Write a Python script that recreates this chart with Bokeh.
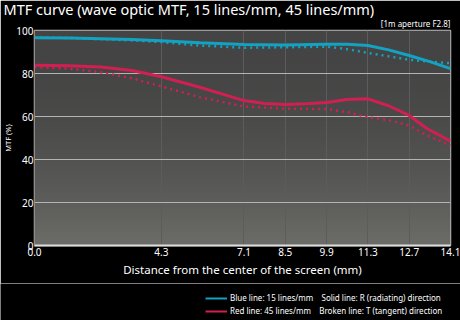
import numpy as np
from bokeh.plotting import figure
from bokeh.layouts import column
from bokeh.models import (Range1d, FixedTicker, Legend, LegendItem, Title)
from bokeh.embed import file_html
from bokeh.resources import INLINE

# Image height positions (mm from centre) and tick labels
x_ticks = [0.0, 4.3, 7.1, 8.5, 9.9, 11.3, 12.7, 14.1]
x_tick_labels = ["0.0", "4.3", "7.1", "8.5", "9.9", "11.3", "12.7", "14.1"]
y_ticks = [0, 20, 40, 60, 80, 100]

# 15 lines/mm (blue)
blue_r_x = [0.0, 1.2, 2.25, 3.3, 4.3, 5.6, 7.1, 8.5, 9.9, 10.6, 11.3, 12.0, 12.7, 13.4, 14.1]
blue_r_y = [96.6, 96.5, 96.2, 95.8, 95.2, 94.3, 93.5, 93.3, 93.6, 93.6, 93.0, 91.0, 88.4, 85.5, 82.3]
blue_t_x = [0.0, 1.2, 2.25, 3.3, 4.3, 5.6, 7.1, 8.5, 9.9, 10.6, 11.3, 12.0, 12.7, 13.4, 14.1]
blue_t_y = [96.8, 96.5, 96.0, 95.4, 94.6, 93.0, 92.0, 92.2, 92.5, 91.3, 89.6, 88.0, 86.4, 85.5, 84.8]

# 45 lines/mm (red)
red_r_x = [0.0, 1.2, 2.25, 3.3, 4.3, 5.6, 7.1, 7.8, 8.5, 9.2, 9.9, 10.6, 11.3, 12.0, 12.7, 13.3, 14.1]
red_r_y = [83.8, 83.6, 83.0, 81.4, 78.5, 73.6, 67.4, 66.0, 65.6, 65.9, 66.5, 67.9, 68.2, 65.0, 60.5, 54.4, 48.5]
red_t_x = [0.0, 1.2, 2.25, 3.3, 4.3, 5.6, 7.1, 8.5, 9.9, 10.6, 11.3, 12.0, 12.7, 13.3, 14.1]
red_t_y = [83.0, 82.2, 80.6, 77.8, 74.0, 69.0, 64.7, 63.6, 63.5, 62.0, 59.7, 58.3, 55.8, 51.2, 46.5]

legend_labels = ["Blue line: 15 lines/mm    Solid line: R (radiating) direction",
                 "Red line: 45 lines/mm    Broken line: T (tangent) direction"]

BLUE = "#13a2c2"
RED = "#d21f52"
FONT = "Noto Sans"

p = figure(width=460, height=283, output_backend="svg", toolbar_location=None,
           x_range=Range1d(x_ticks[0], x_ticks[-1]), y_range=Range1d(y_ticks[0], y_ticks[-1]),
           min_border_left=33, min_border_right=10, min_border_top=30, min_border_bottom=38)
p.background_fill_color = "#000000"
p.border_fill_color = "#000000"
p.outline_line_color = "#b8b8b8"
p.outline_line_width = 1.5

# vertical gradient for the plotting area (darker at top, lighter at bottom)
n = 200
t = np.linspace(0.0, 1.0, n)[:, None]          # 0 = bottom, 1 = top
w = (1.0 - t) ** 2
top_c = np.array([68, 68, 68])
bot_c = np.array([108, 108, 104])
cols = top_c + (bot_c - top_c) * w[..., None]
img = np.zeros((n, 1), dtype=np.uint32)
view = img.view(dtype=np.uint8).reshape((n, 1, 4))
view[..., 0] = cols[..., 0].astype(np.uint8)
view[..., 1] = cols[..., 1].astype(np.uint8)
view[..., 2] = cols[..., 2].astype(np.uint8)
view[..., 3] = 255
p.image_rgba(image=[img], x=x_ticks[0], y=y_ticks[0],
             dw=x_ticks[-1] - x_ticks[0], dh=y_ticks[-1] - y_ticks[0], level="image")

# grids
p.xgrid.ticker = FixedTicker(ticks=x_ticks)
p.xgrid.grid_line_color = "#5c5c5c"
p.xgrid.grid_line_width = 1
p.ygrid.ticker = FixedTicker(ticks=y_ticks)
p.ygrid.grid_line_color = "#b4b4b4"
p.ygrid.grid_line_width = 1

# curves
p.line(blue_t_x, blue_t_y, color=BLUE, line_width=2.5, line_dash="2 4")
p.line(blue_r_x, blue_r_y, color=BLUE, line_width=3)
p.line(red_t_x, red_t_y, color=RED, line_width=2.5, line_dash="2 4")
p.line(red_r_x, red_r_y, color=RED, line_width=3)

# axes
p.xaxis.ticker = FixedTicker(ticks=x_ticks)
p.xaxis.major_label_overrides = {tk: lb for tk, lb in zip(x_ticks, x_tick_labels)}
p.xaxis.axis_label = "Distance from the center of the screen (mm)"
p.yaxis.ticker = FixedTicker(ticks=y_ticks)
p.yaxis.axis_label = "MTF (%)"
for ax in (p.xaxis, p.yaxis):
    ax.major_tick_line_color = None
    ax.minor_tick_line_color = None
    ax.major_tick_out = 0
    ax.major_tick_in = 0
    ax.minor_tick_out = 0
    ax.minor_tick_in = 0
    ax.major_label_text_color = "#ffffff"
    ax.major_label_text_font = FONT
    ax.axis_label_text_color = "#ffffff"
    ax.axis_label_text_font = FONT
    ax.axis_label_text_font_style = "normal"
p.xaxis.axis_line_color = "#dcdcdc"
p.xaxis.axis_line_width = 2
p.xaxis.major_label_text_font_size = "10px"
p.xaxis.major_label_standoff = 2
p.xaxis.axis_label_text_font_size = "11.5px"
p.xaxis.axis_label_standoff = 3
p.yaxis.axis_line_color = "#8c8c8c"
p.yaxis.major_label_text_font_size = "10px"
p.yaxis.major_label_standoff = 1
p.yaxis.axis_label_text_font_size = "7.5px"
p.yaxis.axis_label_standoff = 0

# titles
p.add_layout(Title(text="[1m aperture F2.8]", align="right", text_color="#ffffff",
                   text_font=FONT, text_font_size="8px", text_font_style="normal",
                   standoff=3), "above")
p.add_layout(Title(text="MTF curve (wave optic MTF, 15 lines/mm, 45 lines/mm)", align="left",
                   text_color="#ffffff", text_font=FONT, text_font_size="14.5px",
                   text_font_style="normal", offset=-31, standoff=-9), "above")

# legend strip underneath the chart; its view window lies below the data,
# so only the legend keys of the two series appear
lg = figure(width=460, height=37, output_backend="svg", toolbar_location=None,
            x_axis_type=None, y_axis_type=None,
            x_range=Range1d(x_ticks[0], x_ticks[-1]), y_range=Range1d(-20, -10),
            min_border=0)
lg.frame_align = False
lg.background_fill_color = "#000000"
lg.border_fill_color = "#000000"
lg.outline_line_color = None
key_blue = lg.line(blue_r_x, blue_r_y, color=BLUE, line_width=2)
key_red = lg.line(red_r_x, red_r_y, color=RED, line_width=2)
legend = Legend(items=[LegendItem(label=legend_labels[0], renderers=[key_blue]),
                       LegendItem(label=legend_labels[1], renderers=[key_red])],
                location=(205, 4), orientation="vertical")
legend.background_fill_alpha = 0
legend.border_line_color = None
legend.label_text_color = "#ffffff"
legend.label_text_font = FONT
legend.label_text_font_size = "8px"
legend.glyph_width = 22
legend.glyph_height = 10
legend.label_height = 10
legend.spacing = 2
legend.padding = 0
legend.margin = 0
legend.label_standoff = 3
lg.add_layout(legend)

page = column(p, lg, spacing=0)
open("out.html", "w").write(file_html(page, INLINE))
